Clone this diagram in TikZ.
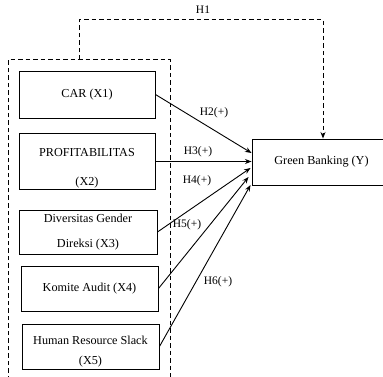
\documentclass[tikz,border=0pt]{standalone}
\usepackage{fontspec}
\setmainfont{Liberation Serif}
\usetikzlibrary{arrows.meta, calc}

\tikzset{
  varbox/.style={draw, line width=0.95pt, align=center, inner sep=2pt, font=\fontsize{12.2}{14}\selectfont},
  hyplink/.style={line width=0.9pt, -{Stealth[length=6.5pt, width=5pt]}},
  groupline/.style={line width=1pt, dash pattern=on 4.5pt off 3pt},
  hyplabel/.style={font=\fontsize{11.5}{13}\selectfont},
}

\begin{document}
\begin{tikzpicture}[x=1pt, y=-1pt]
  \useasboundingbox (0,0) rectangle (383,377);

  % Independent variables
  \node[varbox, minimum width=136pt, minimum height=47pt] (car) at (87,94.5) {CAR (X1)};
  \node[varbox, minimum width=136pt, minimum height=47pt] (profit) at (87,161.5) {\rule{0pt}{21pt}PROFITABILITAS\\[15pt](X2)};
  \node[varbox, minimum width=138pt, minimum height=44pt] (gender) at (88,232) {Diversitas Gender\\[11pt]Direksi (X3)};
  \node[varbox, minimum width=137pt, minimum height=45pt] (komite) at (89.5,288.5) {Komite Audit (X4)};
  \node[varbox, minimum width=137pt, minimum height=45pt] (hrs) at (90.5,346.5) {\rule{0pt}{18pt}Human Resource Slack\\[6pt](X5)};

  % Dependent variable
  \node[varbox, minimum width=142pt, minimum height=46pt] (green) at (323,162) {\hspace*{-3pt}Green Banking (Y)};

  % Group of X variables
  \draw[groupline] (8,395) |- (170,60) -- (170,395);
  \coordinate (grp) at (79,60);

  % H1
  \draw[groupline, -{Stealth[length=6.5pt, width=5pt]}] (grp) -- ++(0,-40) -| (green.north);
  \node[hyplabel] (h1) at (203,10) {H1};

  % H2 - H6
  \draw[hyplink] (car.east) -- ($(green.west)+(0,-9)$);
  \draw[hyplink] (profit.east) -- (profit.east -| green.west);
  \draw[hyplink] (gender.east) -- ($(green.west)+(-1,6)$);
  \draw[hyplink] (komite.east) -- ($(green.west)+(-3,15)$);
  \draw[hyplink] (hrs.east) -- ($(green.west)+(-1,23)$);

  \node[hyplabel] (h2) at (214,113) {H2(+)};
  \node[hyplabel] (h3) at (198,152) {H3(+)};
  \node[hyplabel] (h4) at (197,181) {H4(+)};
  \node[hyplabel] (h5) at (187,225) {H5(+)};
  \node[hyplabel] (h6) at (218,282) {H6(+)};
\end{tikzpicture}
\end{document}
